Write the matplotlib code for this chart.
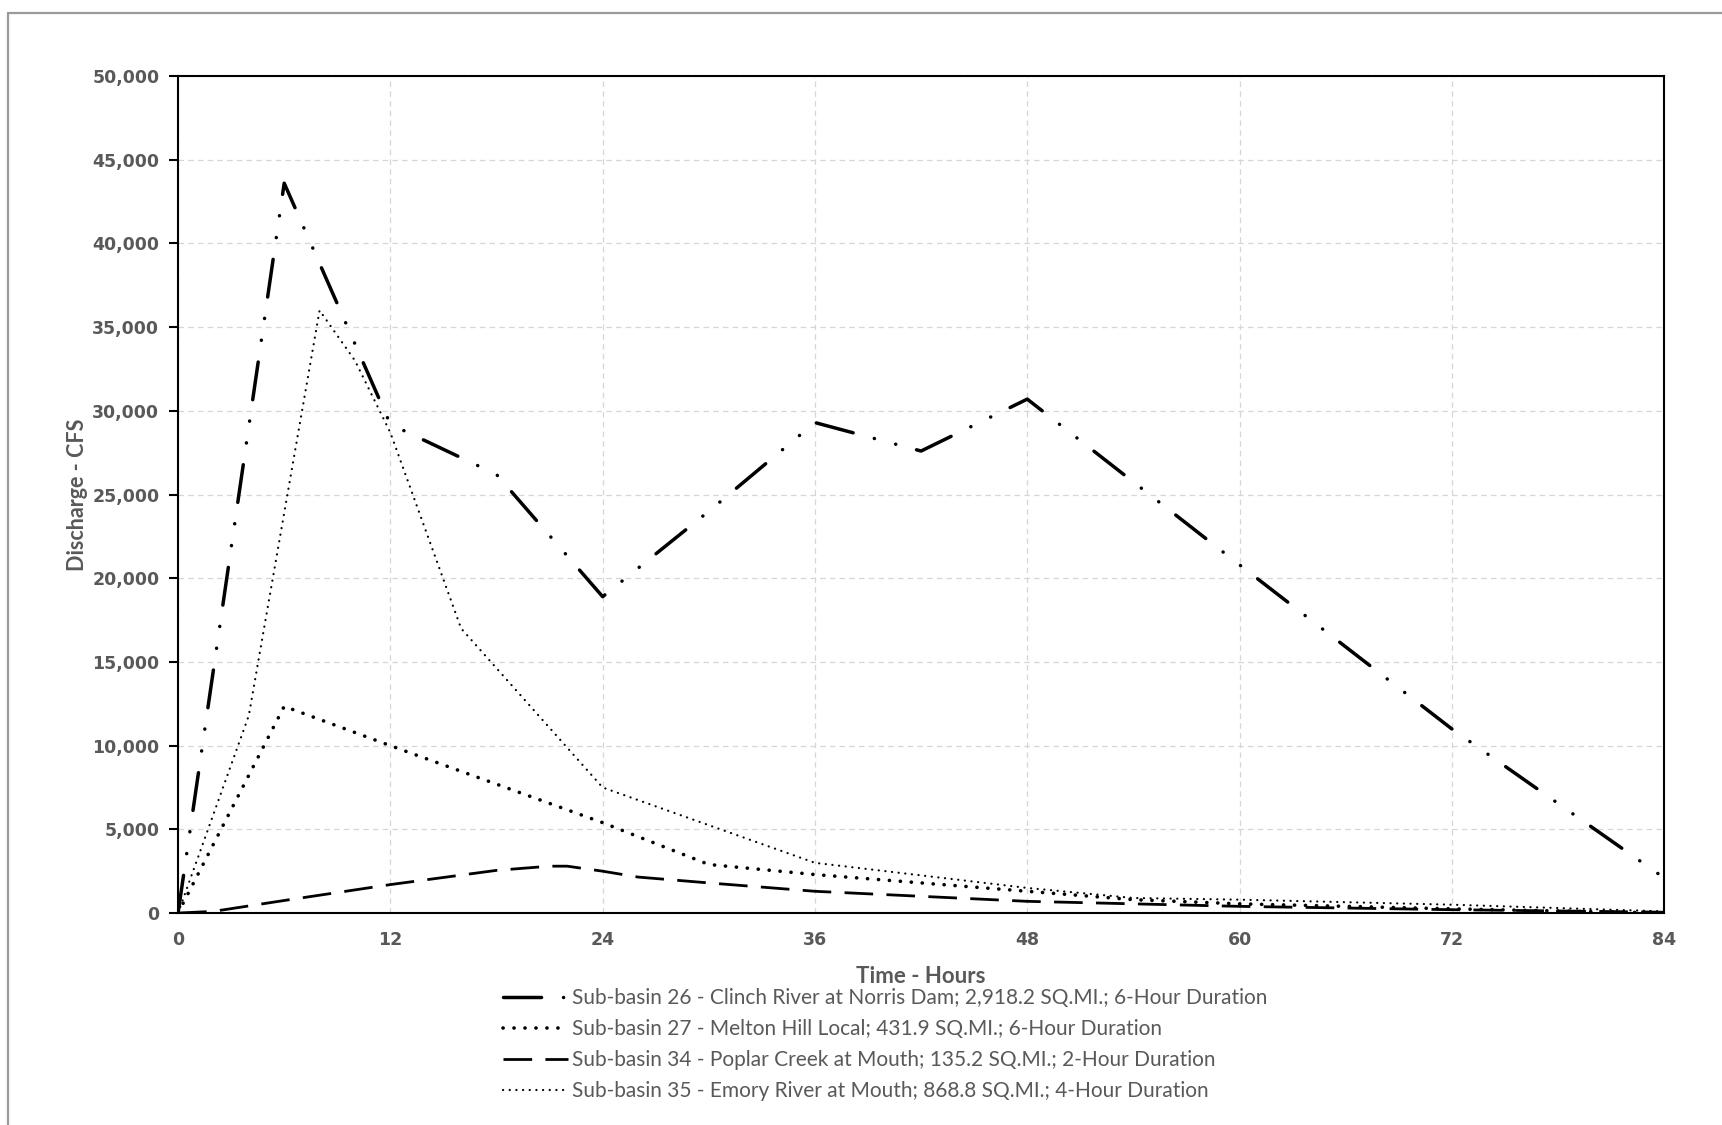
import matplotlib
matplotlib.use("Agg")
import matplotlib.pyplot as plt
from matplotlib.patches import Rectangle
from matplotlib.ticker import FuncFormatter

# dash patterns given in points, not scaled by line width
plt.rcParams['lines.scale_dashes'] = False

# Sub-basin 26 - Clinch River at Norris Dam
hours_26 = [0, 6, 12, 18, 24, 30, 36, 42, 48, 60, 72, 84]
flow_26 = [0, 43600, 29200, 26200, 18900, 24000, 29300, 27600, 30700, 20800, 11000, 2100]

# Sub-basin 27 - Melton Hill Local
hours_27 = [0, 6, 12, 24, 30, 36, 42, 48, 54, 60, 72, 84]
flow_27 = [0, 12350, 10000, 5400, 2900, 2300, 1800, 1300, 800, 550, 250, 0]

# Sub-basin 34 - Poplar Creek at Mouth
hours_34 = [0, 2, 6, 12, 18, 21, 22, 24, 26, 30, 36, 48, 60, 72, 84]
flow_34 = [0, 100, 750, 1700, 2550, 2800, 2800, 2500, 2150, 1800, 1300, 700, 400, 200, 50]

# Sub-basin 35 - Emory River at Mouth
hours_35 = [0, 4, 8, 10, 12, 16, 24, 36, 48, 54, 60, 72, 84]
flow_35 = [0, 11800, 36000, 33000, 28700, 17000, 7500, 3000, 1500, 900, 800, 500, 100]

labels = [
    "Sub-basin 26 - Clinch River at Norris Dam; 2,918.2 SQ.MI.; 6-Hour Duration",
    "Sub-basin 27 - Melton Hill Local; 431.9 SQ.MI.; 6-Hour Duration",
    "Sub-basin 34 - Poplar Creek at Mouth; 135.2 SQ.MI.; 2-Hour Duration",
    "Sub-basin 35 - Emory River at Mouth; 868.8 SQ.MI.; 4-Hour Duration",
]

grey = "#595959"

fig = plt.figure(figsize=(17.22, 11.25), dpi=100)
ax = fig.add_axes([0.1034, 0.1884, 0.8630, 0.7440])

# outer frame of the original figure box
fig.patches.append(Rectangle((0.0047, -0.05), 1.2, 0.0384 + 1.0, transform=fig.transFigure,
                             fill=False, edgecolor="#9a9a9a", lw=1.6))

ax.plot(hours_26, flow_26, color="black", lw=2.5, dash_capstyle="round",
        linestyle=(0, (27.4, 15.8, 0.1, 15.8, 0.1, 15.5)), label=labels[0])
ax.plot(hours_27, flow_27, color="black", lw=2.6, dash_capstyle="round",
        linestyle=(0, (0.1, 7.8)), label=labels[1])
ax.plot(hours_34, flow_34, color="black", lw=2.0, dash_capstyle="butt",
        linestyle=(0, (20.6, 9.6)), label=labels[2])
ax.plot(hours_35, flow_35, color="black", lw=1.6, dash_capstyle="round",
        linestyle=(0, (0.1, 4.7)), label=labels[3])

ax.set_xlim(0, 84)
ax.set_ylim(0, 50000)
ax.set_xticks(range(0, 85, 12))
ax.set_yticks(range(0, 50001, 5000))
ax.yaxis.set_major_formatter(FuncFormatter(lambda v, p: f"{int(v):,}"))

ax.grid(True, color="#d6d6d6", lw=0.9, linestyle=(0, (4, 3)))
ax.set_axisbelow(True)
for s in ax.spines.values():
    s.set_linewidth(1.5)
    s.set_color("black")

ax.tick_params(axis="y", length=6.5, width=1.5, direction="out", pad=7,
               labelsize=12.5, labelcolor=grey)
ax.tick_params(axis="x", length=0, pad=13, labelsize=12.5, labelcolor=grey)
for t in ax.get_xticklabels() + ax.get_yticklabels():
    t.set_fontweight("bold")
    t.set_family("DejaVu Sans")

ax.set_ylabel("Discharge - CFS", family="Lato", fontweight="bold", fontsize=15.5,
              color=grey, labelpad=3)
ax.set_xlabel("Time - Hours", family="Lato", fontweight="bold", fontsize=16,
              color=grey, labelpad=12)

leg = ax.legend(loc="upper left", bbox_to_anchor=(503 / 1722, 1 - 988 / 1125),
                bbox_transform=fig.transFigure, frameon=False, borderpad=0,
                borderaxespad=0, handlelength=3.1, handletextpad=0.2,
                labelspacing=0.53, prop={"family": "Lato", "size": 15})
for t in leg.get_texts():
    t.set_color(grey)

fig.savefig("out.png", dpi=100)
